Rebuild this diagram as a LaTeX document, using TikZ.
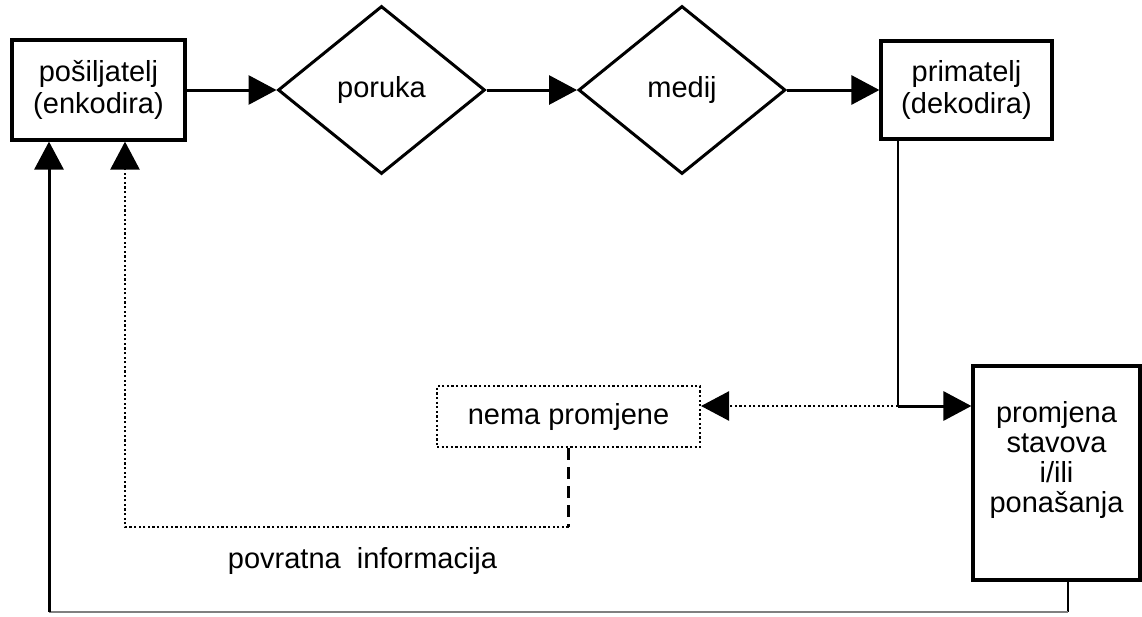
\documentclass[tikz,border=0pt]{standalone}
\usepackage{fontspec}
\setmainfont{Liberation Sans}
\usetikzlibrary{positioning,shapes.geometric,arrows.meta}

\begin{document}
\begin{tikzpicture}[x=1pt,y=-1pt,
    font=\fontsize{29}{32}\selectfont,
    box/.style={draw,line width=3.2pt,align=center,inner sep=0pt},
    rhomb/.style={draw,diamond,line width=3pt,inner sep=0pt,minimum width=207pt,minimum height=168pt},
    flow/.style={line width=3pt,-{Triangle[length=28pt,width=29pt]}},
    dots/.style={line width=2.4pt,dash pattern=on 2.2pt off 2.4pt},
  ]
  \pgfmathsetmacro{\RowY}{90}
  \pgfmathsetmacro{\SplitX}{898}
  \pgfmathsetmacro{\FeedY}{527}
  \pgfmathsetmacro{\LoopY}{612}
  \useasboundingbox (0,0) rectangle (1142,616);
  % TOP
  \node[box,minimum width=173pt,minimum height=100pt] (sender) at (98.5,\RowY) {pošiljatelj\\(enkodira)};
  \node[rhomb] (poruka) at (381.5,\RowY) {\raisebox{6pt}{poruka}};
  \node[rhomb] (medij) at (682,\RowY) {\raisebox{6pt}{medij}};
  \node[box,minimum width=171pt,minimum height=98pt] (receiver) at (966.5,\RowY) {primatelj\\(dekodira)};
  \draw[flow] (sender.east) -- (poruka.west);
  \draw[flow] (poruka.east) -- (medij.west);
  \draw[flow] (medij.east) -- (receiver.west);
  % RIGHT
  \node[box,minimum width=167pt,minimum height=214pt] (change) at (1056.5,473) {};
  \node[align=center,font=\fontsize{29}{30}\selectfont] (changetxt) at (1056.5,460) {promjena\\stavova\\i/ili\\ponašanja};
  \coordinate (split) at (\SplitX,406);
  \draw[line width=2.6pt] (receiver.south -| split) -- (split);
  \draw[flow] (split) -- (change.west |- split);
  % MIDDLE
  \node[box,dots,line width=2pt,minimum width=263pt,minimum height=61pt] (nochange) at (568.5,416.5) {nema promjene};
  \draw[dots,-{Triangle[length=28pt,width=29pt]}] (split) -- (nochange.east |- split);
  % FEEDBACK
  \coordinate (fbcorner) at (568.5,\FeedY);
  \coordinate (fbleft) at (125,\FeedY);
  \draw[line width=2.4pt,dash pattern=on 12pt off 7pt] (nochange.south) -- (fbcorner);
  \draw[dots,-{Triangle[length=28pt,width=29pt]}] (fbcorner) -- (fbleft) -- (sender.south -| fbleft);
  \node[anchor=base] (feedback) at (362.5,568) {povratna\ \ informacija};
  % BOTTOM
  \coordinate (loopright) at (1068,\LoopY);
  \coordinate (loopleft) at (49,\LoopY);
  \draw[line width=2.6pt] (change.south -| loopright) -- (loopright);
  \draw[line width=2.2pt,black!50] (loopright) -- (loopleft);
  \draw[flow] (loopleft) -- (sender.south -| loopleft);
\end{tikzpicture}
\end{document}
